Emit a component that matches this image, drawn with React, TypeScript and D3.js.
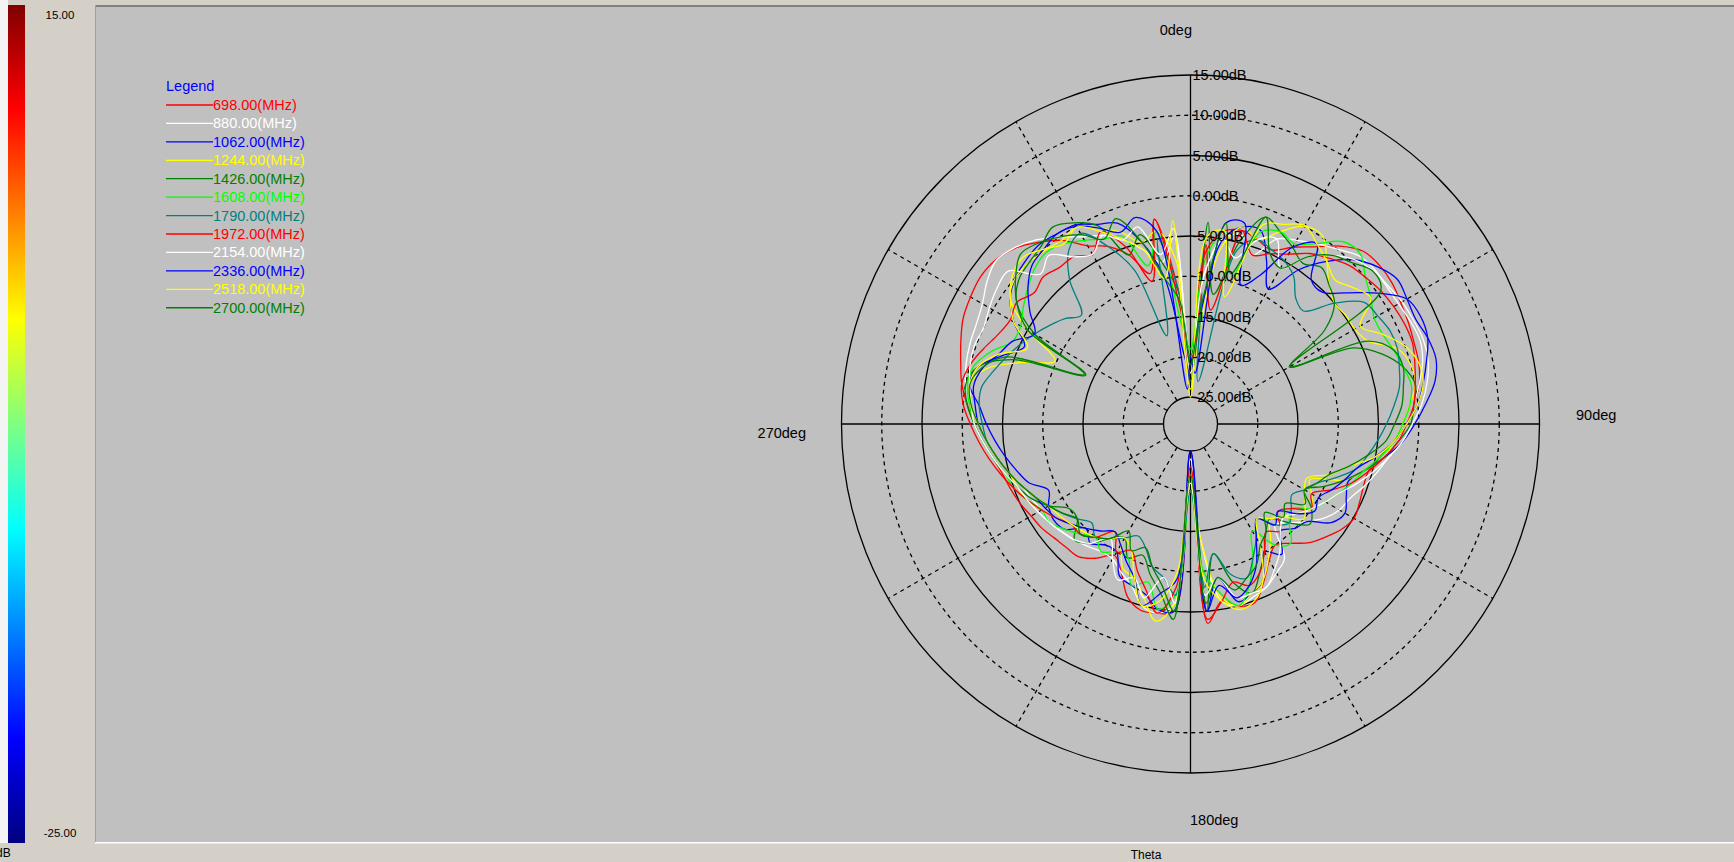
import React from 'react';
import * as d3 from 'd3';

// ---------------- DATA ----------------
const THETA = d3.range(0, 360, 5); // sample angles (deg), 0 = top, clockwise

const FREQ_LABELS = ['698.00', '880.00', '1062.00', '1244.00', '1426.00', '1608.00', '1790.00', '1972.00', '2154.00', '2336.00', '2518.00', '2700.00'];
const SERIES_COLORS = ['#ff0000', '#ffffff', '#0000ff', '#ffff00', '#008000', '#00ff00', '#008080', '#ff0000', '#ffffff', '#0000ff', '#ffff00', '#008000'];

const F698 = [
  -21, -7, -4, -3.5, -4, -4.5, -3, -1.5, 0.5, 2, 2.3, 2.2,
  1.8, 1.5, 1.2, 1.0, 0.5, -0.5, -1.5, -3, -4.5, -5.5, -5.5, -5.2,
  -4.9, -5.5, -6.5, -7.5, -9, -10, -8.8, -6.8, -4.8, -4.9, -6, -3.5,
  -22, -5, -4.5, -4.4, -5.5, -8, -9.5, -8, -6.8, -6.6, -6.3, -5.8,
  -5.5, -5, -4.6, -4.2, -3.5, -2.5, -1.5, -0.5, 0.5, 1.2, 2, 2.8,
  3.2, 3.5, 3.3, 2.5, 1.1, -0.5, -2.8, -4, -6, -9, -2.5, -12,
];
const F880 = [
  -20, -10, -5, -4, -6, -3, -2, -1, 0, 1.2, 1.5, 1.4,
  1.5, 1.8, 2, 1.5, 0.5, -0.5, -1.5, -2.5, -3.5, -4.5, -5.5, -6.5,
  -7, -8, -9.5, -11, -12, -8, -7, -6, -5.5, -5, -6, -14,
  -24, -6, -4.5, -5, -7, -8, -9, -9, -8.5, -8, -7.5, -7,
  -7, -6.5, -6, -5, -4, -3, -2, -1, 0, 0.5, 0.8, 1,
  1.5, 2.5, 3.2, 2.6, 1.5, 0, -1.5, -2.5, -4, -6, -8, -5,
];
const F1062 = [
  -22, -15, -5, -3, -2.8, -6, -9, -5, -2, 0.5, 2, 3,
  2.7, 2.5, 3, 3.2, 2.5, 1, -0.5, -2, -4, -6, -7.5, -7,
  -6.2, -7, -9.5, -10, -11, -8.6, -10, -7, -6, -5.5, -9, -5,
  -25, -5, -5, -6.5, -7, -7.5, -10, -10, -9, -10, -8, -7.6,
  -8, -8.9, -7, -6, -5, -4, -3, -2, -0.5, -1, -3.5, -5.6,
  -3, -1, 0, 0.5, 0.8, 0.5, 0.2, -1, -1.8, -5, -10, -20,
];
const F1244 = [
  -25, -18, -6, -3, -4, -2, 0, 0.2, -2, -4, -5, -4.8,
  -4.8, -4, -1, 0, 0, -1, -2, -3, -4, -6, -8, -12,
  -11, -10, -11, -12, -13, -11, -9, -7, -6, -5, -6.5, -14,
  -20, -6, -3.5, -6, -8, -8.5, -11, -12, -10, -9.5, -9, -8,
  -7, -6, -5.5, -5, -4, -3, -2, -1, -0.5, -2, -6, -9.8,
  -5, -1, 0, 0, -0.2, -0.5, -0.1, -1.5, -3, -5, -4, -8,
];
const F1426 = [
  -20, -3.2, -12, -5, -1, -2, -3, -4, -3, -4, -5, -8,
  -14, -6, -3, -1, 0, -0.5, -1, -2.5, -4, -6, -8, -10,
  -12, -10, -9, -11, -13, -12, -10, -8, -6, -8, -12, -5,
  -22, -4, -7, -9, -11, -10, -12, -11, -9, -8, -10, -10,
  -8, -6.5, -5.5, -4.5, -3.5, -2.5, -1.5, -0.5, 0, -1, -5, -14,
  -6, -2, -0.5, 0, 0.5, 1.5, 0.5, -1.2, -6, -4, -8, -12,
];
const F1608 = [
  -19, -8, -4, -10, -3, -2, -2.5, -1, 1.2, 1.5, 0, -1,
  -2, -2, -1.5, -1, -0.5, -1, -2, -3, -4.5, -6, -7, -8,
  -9, -10, -12, -11, -9, -10, -13, -10, -7, -5, -7, -10,
  -20, -7, -5, -8, -7, -10, -10, -9, -10, -9, -8, -7,
  -7, -6, -5, -4.5, -3.5, -2.5, -1.5, -0.8, -0.2, -0.5, -2, -4,
  -4, -3, -2, -1, -0.5, -1, -2, -3, -3.5, -8, -4, -16,
];
const F1790 = [
  -23, -12, -23, -6, -4, -4.5, -5, -6, -8, -8.5, -5, -2,
  -1.5, -1, -1, -1.5, -2, -3, -4, -5, -6, -7, -9, -11,
  -12, -13, -12, -11, -12, -14, -12, -10, -8, -9, -12, -8,
  -20, -7, -9, -10, -12, -13, -12, -11, -10, -11, -10, -9,
  -8, -7, -6, -5, -4, -3, -2.5, -2, -2, -3, -4, -5,
  -6, -7, -8, -9.2, -5, -2, -1, -4, -8, -17, -5, -12,
];
const F1972 = [
  -22, -6, -14, -3.5, -6, -5, -4, -2.5, -1.5, -0.5, 0, 0.5,
  0.8, 1, 1, 0.5, 0, -0.5, -1.5, -2.5, -4, -5.5, -7, -9,
  -11, -10, -12, -13, -11, -12, -10, -8, -7, -8, -6, -4,
  -23, -8, -4.5, -7, -9, -11, -10, -12, -10, -9, -9, -8,
  -7, -6, -5, -4, -3, -2, -1, 0, 0.5, 0, -1, -2,
  -2.5, -2, -3, -2.5, -3, -3, -4, -2, -5, -10, -2.5, -14,
];
const F2154 = [
  -22, -10, -5, -7, -4, -3, -6, -3, -1, 0.5, 1.3, 1.6,
  2, 2.2, 2.4, 2.2, 1.5, 0.5, -0.8, -2, -3.5, -5, -6.5, -8,
  -9, -10, -11, -12, -11, -9, -7.5, -6, -6, -6, -9, -7,
  -21, -6, -9, -6, -8, -7, -9, -11, -9, -8, -7.5, -7,
  -6.5, -6, -5.5, -4.5, -3.5, -2.5, -1.5, -1, -0.5, 0, 0.2, 0,
  0.5, 1, 1.2, -2, -1, -3, -4, -2.5, -4, -3, -7, -4,
];
const F2336 = [
  -20, -22, -3, -2.5, -10, -8, -3, -1, -5, -5.2, -3, 0,
  2.7, 3.2, 3, 2, 1, 0, -1.5, -3, -5, -7, -8, -9,
  -10, -9.5, -11, -13, -12, -14, -12, -9, -7, -6, -8, -5,
  -25, -9, -7, -5, -8, -9.5, -11, -12, -11, -10, -9, -8,
  -7.5, -7, -6, -5, -4, -3, -2, -1.5, -1, -1.6, -3, -4,
  -6, -4, -2, -0.5, 0, 0.5, 0, -1.5, -3, -1.8, -4, -24,
];
const F2518 = [
  -24, -5, -4, -12, -2, -1, 0.1, -1, -2, -3, -2, -1,
  -4, -2, 0, 1, 1, 0, -1.5, -3, -5, -8, -10, -12.4,
  -12, -11, -10, -12, -13, -14, -11, -7, -5, -4.5, -6, -9,
  -22, -10, -6, -5, -8, -11, -12, -11, -10, -9.5, -9, -8.5,
  -8, -7, -6, -5, -4, -3, -2, -1, -0.5, -1, -3, -6,
  -3, -1, 0.5, 1, 0, -1, -0.1, -2, -4, -6, -10, -3,
];
const F2700 = [
  -21, -14, -3, -9, -1, -5, -6, -3, -1, 0, 1.2, 0.5,
  -14.2, -4, -1.5, -1, -1.5, -2, -3, -4, -6, -8, -10, -11,
  -12, -11, -13, -12, -14, -12, -11, -9, -8, -7, -9, -6,
  -22, -5, -8, -10, -12, -11, -13, -11, -10, -9, -10, -9,
  -8, -7, -6, -5, -4, -3, -2, -1, -0.5, -1.5, -4, -13.8,
  -5, -2, 0, 1.5, 1, 0, -1.2, -3, -1.2, -5, -10, -13,
];
const SERIES = [F698, F880, F1062, F1244, F1426, F1608, F1790, F1972, F2154, F2336, F2518, F2700];

const RING_DB = [-25, -20, -15, -10, -5, 0, 5, 10, 15];
const RING_LABELS = ['-25.00dB', '-20.00dB', '-15.00dB', '-10.00dB', '-5.00dB', '0.00dB', '5.00dB', '10.00dB', '15.00dB'];
const SOLID_RINGS = [-25, -15, -5, 5, 15];
const SPOKES = [0, 30, 60, 90, 120, 150, 180, 210, 240, 270, 300, 330];
const COLORBAR_TOP = '15.00';
const COLORBAR_BOTTOM = '-25.00';

// ---------------- LAYOUT ----------------
const W = 1734;
const H = 862;
const CX = 1190.5;
const CY = 424;
const R_IN = 27;
const R_OUT = 349;
const FONT = '"Liberation Sans", Arial, sans-serif';

const rScale = d3.scaleLinear().domain([-25, 15]).range([R_IN, R_OUT]).clamp(true);

const radial = d3
  .lineRadial<number>()
  .angle((_, i) => (THETA[i] * Math.PI) / 180)
  .radius((d) => rScale(d))
  .curve(d3.curveCatmullRomClosed.alpha(0.5));

export default function App() {
  const jet = [
    [0, '#800000'],
    [0.125, '#ff0000'],
    [0.25, '#ff8000'],
    [0.375, '#ffff00'],
    [0.5, '#80ff80'],
    [0.625, '#00ffff'],
    [0.75, '#0080ff'],
    [0.875, '#0000ff'],
    [1, '#000080'],
  ];
  const toXY = (deg: number, r: number) => {
    const a = (deg * Math.PI) / 180;
    return [CX + r * Math.sin(a), CY - r * Math.cos(a)];
  };
  return (
    <svg
      width={W}
      height={H}
      style={{ position: 'absolute', left: 0, top: 0, display: 'block' }}
      fontFamily={FONT}
    >
      <defs>
        <linearGradient id="jet" x1="0" y1="0" x2="0" y2="1">
          {jet.map(([o, c]) => (
            <stop key={String(o)} offset={String(o)} stopColor={String(c)} />
          ))}
        </linearGradient>
        <clipPath id="plotclip">
          <rect x={96} y={7} width={W - 96} height={835} />
        </clipPath>
      </defs>
      {/* frame */}
      <rect x={0} y={0} width={W} height={H} fill="#d4d0c8" />
      <rect x={0} y={0} width={8} height={843} fill="#f4f4f4" />
      <rect x={8} y={5} width={17} height={838} fill="url(#jet)" />
      <rect x={95} y={5} width={W - 95} height={2} fill="#808080" />
      <rect x={95} y={5} width={1} height={838} fill="#a0a0a0" />
      <rect x={96} y={7} width={W - 96} height={835} fill="#c0c0c0" />
      <rect x={95} y={842} width={W - 95} height={1.5} fill="#ffffff" />
      <text x={60} y={19} fontSize={11.5} textAnchor="middle" fill="#000">{COLORBAR_TOP}</text>
      <text x={60} y={837} fontSize={11.5} textAnchor="middle" fill="#000">{COLORBAR_BOTTOM}</text>
      <text x={-4} y={857} fontSize={12} fill="#000">dB</text>
      <text x={1146} y={859} fontSize={12} textAnchor="middle" fill="#000">Theta</text>

      <g clipPath="url(#plotclip)">
        {/* rings */}
        {RING_DB.map((db) => (
          <circle
            key={db}
            cx={CX}
            cy={CY}
            r={rScale(db)}
            fill="none"
            stroke="#000"
            strokeWidth={1.3}
            strokeDasharray={SOLID_RINGS.includes(db) ? undefined : '4,4'}
          />
        ))}
        {/* spokes */}
        {SPOKES.map((deg) => {
          const [x1, y1] = toXY(deg, R_IN);
          const [x2, y2] = toXY(deg, R_OUT);
          return (
            <line
              key={deg}
              x1={x1}
              y1={y1}
              x2={x2}
              y2={y2}
              stroke="#000"
              strokeWidth={1.3}
              strokeDasharray={deg % 90 === 0 ? undefined : '4,4'}
            />
          );
        })}
        {/* curves */}
        <g transform={`translate(${CX},${CY})`}>
          {SERIES.map((vals, i) => (
            <path key={i} d={radial(vals) || ''} fill="none" stroke={SERIES_COLORS[i]} strokeWidth={1.3} />
          ))}
        </g>
        {/* ring labels */}
        {RING_DB.map((db, i) => (
          <text key={db} x={CX + 2} y={CY - rScale(db) + 5} fontSize={14.5} fill="#000">
            {RING_LABELS[i]}
          </text>
        ))}
        {/* angle labels */}
        <text x={1192} y={35} fontSize={14.5} textAnchor="end" fill="#000">0deg</text>
        <text x={1576} y={420} fontSize={14.5} fill="#000">90deg</text>
        <text x={1190} y={825} fontSize={14.5} fill="#000">180deg</text>
        <text x={806} y={438} fontSize={14.5} textAnchor="end" fill="#000">270deg</text>

        {/* legend */}
        <text x={166} y={91} fontSize={14.5} fill="#0000ff">Legend</text>
        {FREQ_LABELS.map((f, i) => {
          const y = 105 + i * 18.43;
          return (
            <g key={f}>
              <line x1={166} x2={213} y1={y} y2={y} stroke={SERIES_COLORS[i]} strokeWidth={1.3} />
              <text x={213} y={y + 5} fontSize={14.5} fill={SERIES_COLORS[i]}>
                {f}(MHz)
              </text>
            </g>
          );
        })}
      </g>
    </svg>
  );
}
